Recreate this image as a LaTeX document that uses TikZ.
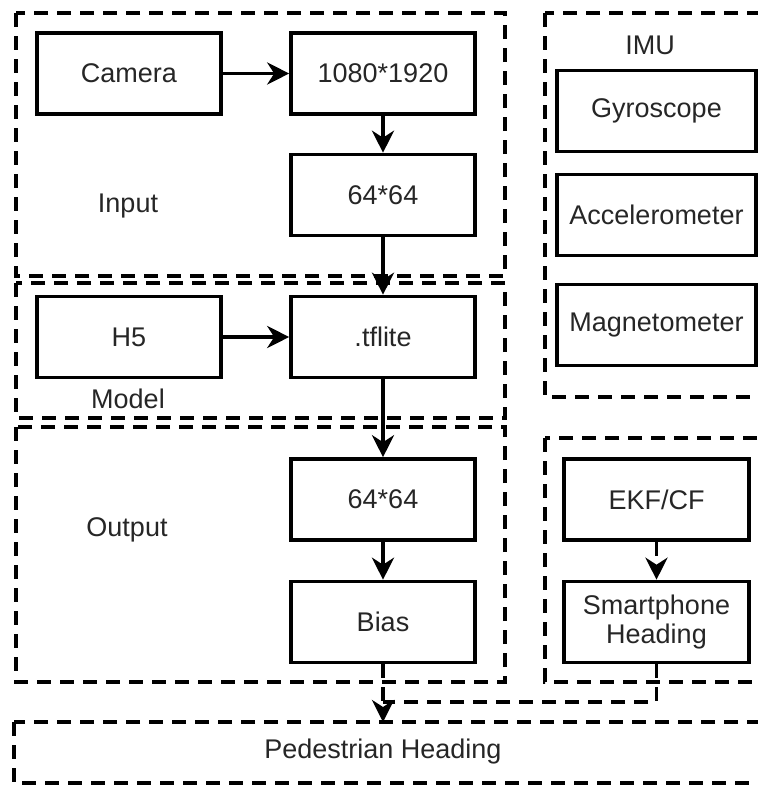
\documentclass[tikz,border=0pt]{standalone}
\usepackage{fontspec}
\setmainfont{Liberation Sans}
\usetikzlibrary{arrows.meta}
\begin{document}
\begin{tikzpicture}[x=1pt,y=-1pt,
  every node/.style={font=\fontsize{27}{32}\selectfont, text=black!85},
  box/.style={draw, line width=3.6pt, rectangle, minimum width=184pt, minimum height=81pt, inner sep=0pt, align=center},
  cont/.style={draw, line width=3.6pt, dash pattern=on 14pt off 9pt},
  arr/.style={line width=3.6pt, -{Stealth[length=22pt,width=22pt,inset=7pt]}},
  darr/.style={arr, dash pattern=on 14pt off 9pt},
  dline/.style={line width=3.6pt, dash pattern=on 14pt off 9pt}]
\useasboundingbox (0,0) rectangle (758,785);
\fill[white] (0,0) rectangle (758,785);
% containers
\draw[cont] (16,13) rectangle (505,276);
\draw[cont] (16,283) rectangle (505,418);
\draw[cont] (16,427) rectangle (505,682);
\draw[cont] (545,13) rectangle (775,397);
\draw[cont] (545,438) rectangle (775,682);
\draw[cont] (14,722) rectangle (775,783);
% labels
\node (linput) at (128,206) {Input};
\node (lmodel) at (128,399) {Model};
\node (loutput) at (127,530) {Output};
\node (limu) at (650,45) {IMU};
\node (ped) at (383,752) {Pedestrian Heading};
% boxes
\node[box] (cam) at (129,73.5) {Camera};
\node[box] (res) at (383,73.5) {1080*1920};
\node[box] (sa) at (383,195) {64*64};
\node[box] (h5) at (129,337) {H5};
\node[box] (tfl) at (383,337) {.tflite};
\node[box] (sb) at (383,499.5) {64*64};
\node[box] (bias) at (383,622) {Bias};
\node[box, minimum width=199pt] (gyro) at (656.5,111) {Gyroscope};
\node[box, minimum width=199pt] (acc) at (656.5,215) {Accelerometer};
\node[box, minimum width=199pt] (mag) at (656.5,325) {Magnetometer};
\node[box, minimum width=185pt] (ekf) at (656.5,499.5) {EKF/CF};
\node[box, minimum width=185pt] (sph) at (656.5,622) {Smartphone\\[-3pt]Heading};
% connectors
\draw[arr] (cam) -- (res);
\draw[arr] (res) -- (sa);
\draw[arr] (sa) -- (tfl);
\draw[arr] (h5) -- (tfl);
\draw[arr] (tfl) -- (sb);
\draw[arr] (sb) -- (bias);
\draw[darr] (ekf) -- (sph);
\coordinate (pedtop) at (383,722);
\coordinate (join) at (383,702);
\draw[darr] (bias.south) -- (pedtop);
\draw[dline] (sph.south) |- (join);
\end{tikzpicture}
\end{document}
